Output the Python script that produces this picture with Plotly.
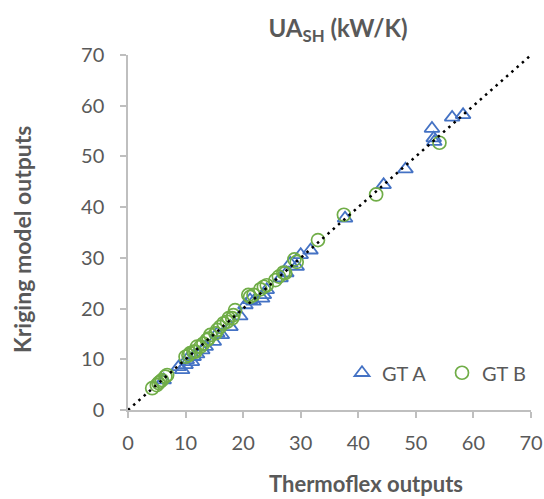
import plotly.graph_objects as go

# GT A (triangles)
gta_x = [6.2, 8.8, 9.4, 10.0, 10.2, 11.1, 11.4, 12.0, 12.9, 13.5, 14.9, 15.5, 16.3, 17.8, 19.5,
         20.4, 21.2, 21.8, 23.3, 23.6, 24.1, 26.5, 27.5, 28.2, 29.3, 30.0, 31.7, 37.7, 44.4,
         48.2, 52.8, 53.1, 53.2, 56.3, 58.2]
gta_y = [5.9, 8.5, 7.9, 8.9, 9.9, 9.5, 10.5, 11.0, 11.8, 12.5, 13.5, 15.1, 14.8, 16.4, 18.5,
         20.7, 21.7, 21.4, 22.0, 22.7, 23.7, 26.0, 27.0, 28.9, 28.3, 30.6, 31.5, 37.8, 44.4,
         47.5, 55.5, 53.6, 52.9, 57.7, 58.2]

# GT B (circles)
gtb_x = [4.2, 5.0, 5.3, 5.6, 5.9, 6.5, 6.8, 10.0, 10.5, 10.8, 11.4, 11.7, 12.0, 12.6, 13.1,
         13.7, 14.0, 14.3, 15.2, 15.5, 16.0, 16.6, 17.2, 17.5, 18.1, 18.3, 18.6, 20.9, 21.2,
         21.8, 23.0, 23.6, 24.1, 25.6, 26.2, 27.0, 27.3, 28.9, 29.3, 33.0, 37.5, 43.1, 54.1]
gtb_y = [4.3, 4.9, 5.3, 5.6, 5.9, 6.6, 6.9, 10.5, 10.8, 11.2, 11.5, 11.5, 12.5, 12.5, 13.1,
         13.8, 14.1, 14.8, 15.1, 15.8, 16.4, 17.1, 17.4, 18.1, 18.1, 18.7, 19.7, 22.7, 22.3,
         22.7, 23.8, 24.3, 24.6, 25.6, 26.3, 27.1, 27.0, 29.7, 29.2, 33.5, 38.5, 42.5, 52.7]

# parity line
line_x = [0, 70]
line_y = [0, 70]

tick_vals = [0, 10, 20, 30, 40, 50, 60, 70]

BLUE = "#4472C4"
GREEN = "#70AD47"
GRAY = "#595959"
AXIS = "#BFBFBF"
FONT = "Lato"

W, H = 544, 499

fig = go.Figure()
fig.add_trace(go.Scatter(
    x=gta_x, y=gta_y, mode="markers", name="GT A", legend="legend",
    marker=dict(symbol="triangle-up-open", size=13, color=BLUE, line=dict(width=1.8, color=BLUE)),
))
fig.add_trace(go.Scatter(
    x=gtb_x, y=gtb_y, mode="markers", name="GT B", legend="legend2",
    marker=dict(symbol="circle-open", size=13, color=GREEN, line=dict(width=1.7, color=GREEN)),
))
fig.add_trace(go.Scatter(
    x=line_x, y=line_y, mode="lines", showlegend=False, hoverinfo="skip",
    line=dict(color="black", width=2.5, dash="2.5px,4.5px"),
))

axis_common = dict(
    range=[0, 70], tickvals=tick_vals, showgrid=False, zeroline=False,
    showline=True, linecolor=AXIS, linewidth=1.5,
    ticks="outside", ticklen=6, tickcolor=AXIS, tickwidth=1.5,
    tickfont=dict(family=FONT, size=20, color=GRAY),
    automargin=False,
)

legend_common = dict(
    orientation="h", y=0.105, yanchor="middle",
    bgcolor="rgba(0,0,0,0)", font=dict(family=FONT, size=20, color=GRAY),
    itemwidth=30,
)

fig.update_layout(
    width=W, height=H,
    margin=dict(l=128, r=13, t=55, b=89),
    paper_bgcolor="white", plot_bgcolor="white",
    font=dict(family=FONT, color=GRAY),
    title=dict(
        text="<b>UA<sub>SH</sub> (kW/K)</b>", x=338 / W, xanchor="center",
        y=1 - 29 / H, yanchor="middle",
        font=dict(family=FONT, size=24, color=GRAY),
    ),
    xaxis=dict(**axis_common, ticklabelstandoff=8),
    yaxis=dict(**axis_common, ticklabelstandoff=12),
    legend=dict(**legend_common, x=0.531, xanchor="left"),
    legend2=dict(**legend_common, x=1.0, xanchor="right"),
    annotations=[
        dict(text="<b>Thermoflex outputs</b>", xref="paper", yref="paper",
             x=(366 - 128) / (W - 128 - 13), y=-(483 - 410) / (410 - 55),
             xanchor="center", yanchor="middle", showarrow=False,
             font=dict(family=FONT, size=22, color=GRAY)),
        dict(text="<b>Kriging model outputs</b>", xref="paper", yref="paper",
             x=-(128 - 22) / (W - 128 - 13), y=(410 - 240) / (410 - 55),
             xanchor="center", yanchor="middle", showarrow=False, textangle=-90,
             font=dict(family=FONT, size=23, color=GRAY)),
    ],
)

fig.write_html("out.html")
